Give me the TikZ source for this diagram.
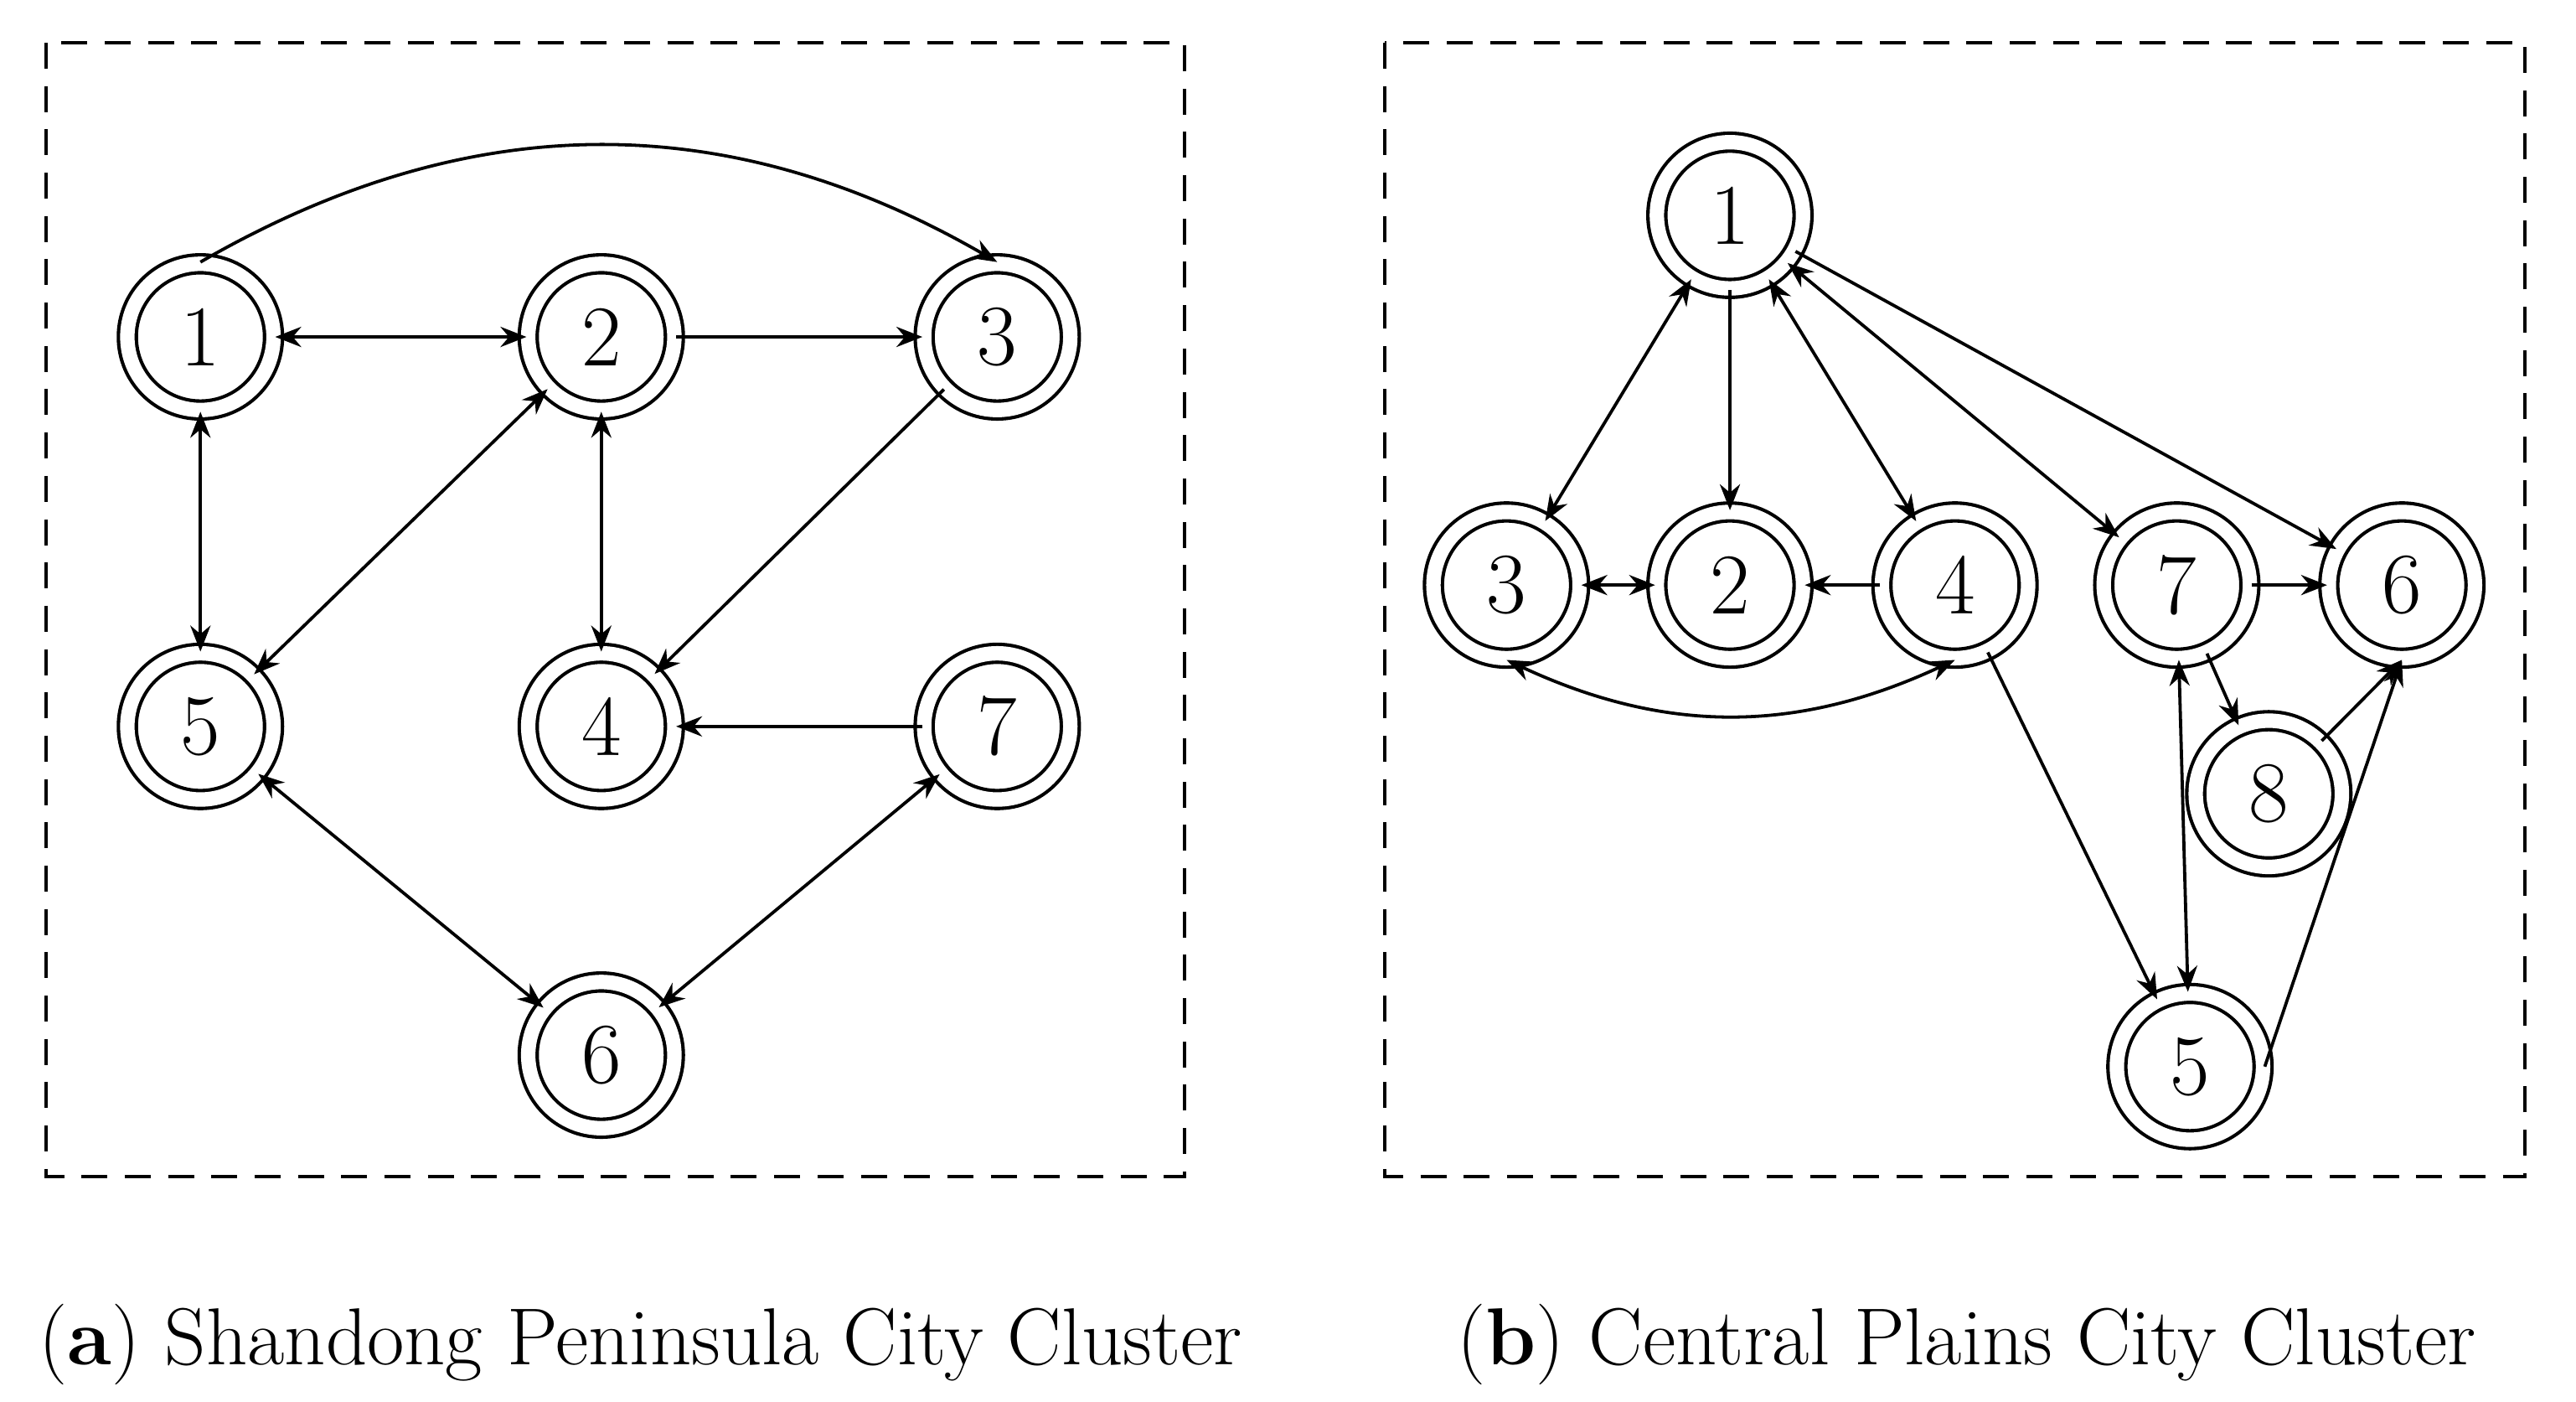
\documentclass[tikz,border=0pt]{standalone}
\usetikzlibrary{arrows.meta}
\begin{document}
\begin{tikzpicture}[x=0.02cm,y=-0.02cm,
 nd/.style={circle,draw,line width=1.2pt,double,double distance=5pt,minimum size=1.78cm,inner sep=0pt,font=\fontsize{30}{30}\selectfont},
 e/.style={line width=1.1pt,-{Stealth[length=9pt,width=7pt]}},
 b/.style={line width=1.1pt,{Stealth[length=9pt,width=7pt]}-{Stealth[length=9pt,width=7pt]}},
 box/.style={line width=1.3pt,dash pattern=on 9pt off 6pt}]
\useasboundingbox (0,0) rectangle (1568,853);
\draw[box] (28,26) rectangle (721,716);
\draw[box] (843,26) rectangle (1537,716);
% left
\node[nd] (a1) at (122,205) {1};
\node[nd] (a2) at (366,205) {2};
\node[nd] (a3) at (607,205) {3};
\node[nd] (a5) at (122,442) {5};
\node[nd] (a4) at (366,442) {4};
\node[nd] (a7) at (607,442) {7};
\node[nd] (a6) at (366,642) {6};
\draw[e] (a1.north) to[out=30,in=150] (a3.north);
\draw[b] (a1) -- (a2);
\draw[e] (a2) -- (a3);
\draw[b] (a5) -- (a1);
\draw[b] (a5) -- (a2);
\draw[b] (a2) -- (a4);
\draw[e] (a3) -- (a4);
\draw[e] (a7) -- (a4);
\draw[b] (a5) -- (a6);
\draw[b] (a7) -- (a6);
% right
\node[nd] (b1) at (1053,131) {1};
\node[nd] (b3) at (917,356) {3};
\node[nd] (b2) at (1053,356) {2};
\node[nd] (b4) at (1190,356) {4};
\node[nd] (b7) at (1325,356) {7};
\node[nd] (b6) at (1462,356) {6};
\node[nd] (b8) at (1381,483) {8};
\node[nd] (b5) at (1333,649) {5};
\draw[b] (b1) -- (b3);
\draw[e] (b1) -- (b2);
\draw[b] (b1) -- (b4);
\draw[b] (b1) -- (b7);
\draw[e] (b1) -- (b6);
\draw[b] (b3) -- (b2);
\draw[e] (b4) -- (b2);
\draw[b] (b3.south) to[out=-25,in=-155] (b4.south);
\draw[e] (b7) -- (b6);
\draw[e] (b7) -- (b8);
\draw[e] (b8.north east) -- (b6.south);
\draw[e] (b4) -- (b5);
\draw[b] (b5) -- (b7);
\draw[e] (b5.east) -- (b6.south);
\node[font=\fontsize{28}{28}\selectfont] at (390,818) {(\textbf{a}) Shandong Peninsula City Cluster};
\node[font=\fontsize{28}{28}\selectfont] at (1197,818) {(\textbf{b}) Central Plains City Cluster};
\end{tikzpicture}
\end{document}
